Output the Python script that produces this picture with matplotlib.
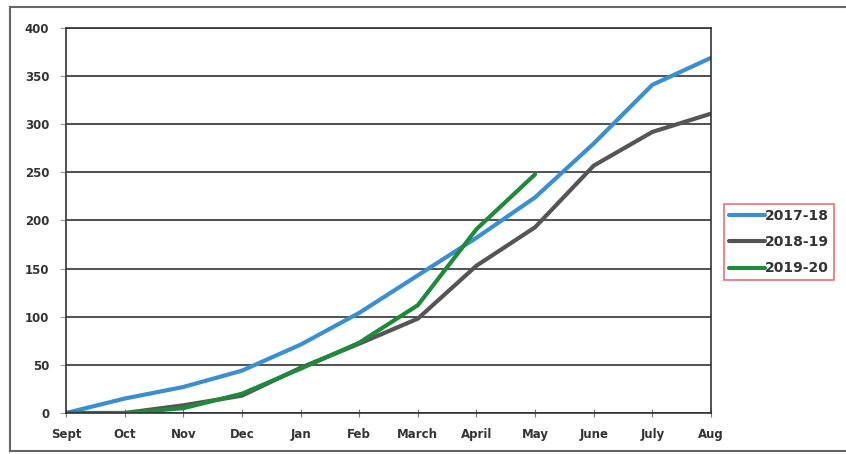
import matplotlib.pyplot as plt
from matplotlib.lines import Line2D

months = ["Sept", "Oct", "Nov", "Dec", "Jan", "Feb", "March", "April", "May", "June", "July", "Aug"]
s2017 = [0, 15, 27, 44, 71, 104, 143, 182, 224, 280, 341, 369]
s2018 = [0, 0, 8, 18, 47, 72, 98, 153, 193, 257, 292, 311]
s2019 = [0, 0, 5, 20, 46, 73, 112, 191, 248]
yticks = [0, 50, 100, 150, 200, 250, 300, 350, 400]

fig = plt.figure(figsize=(8.46, 4.54), dpi=100)
ax = fig.add_axes([66 / 846, 1 - 413 / 454, (711 - 66) / 846, (413 - 28) / 454])

x = range(len(months))
ax.plot(x, s2017, color="#3a8fd0", lw=3, label="2017-18", solid_capstyle="round")
ax.plot(x, s2018, color="#555555", lw=3, label="2018-19", solid_capstyle="round")
ax.plot(range(len(s2019)), s2019, color="#1f8a3b", lw=3, label="2019-20", solid_capstyle="round")

ax.set_xlim(0, len(months) - 1)
ax.set_ylim(0, 400)
ax.set_yticks(yticks)
ax.set_xticks(list(x))
ax.set_xticklabels(months)
ax.grid(axis="y", color="#333333", lw=1.2)
ax.set_axisbelow(True)
for s in ax.spines.values():
    s.set_color("#333333")
    s.set_linewidth(1.2)
ax.tick_params(axis="x", direction="inout", length=6, color="#777777", pad=8)
ax.tick_params(axis="y", direction="out", length=4, color="#999999", pad=8)
for lab in ax.get_xticklabels() + ax.get_yticklabels():
    lab.set_fontsize(8.5)
    lab.set_fontweight("bold")
    lab.set_color("#333333")

leg = ax.legend(loc="center left", bbox_to_anchor=(724 / 846, 1 - 242 / 454),
                bbox_transform=fig.transFigure, frameon=True, fancybox=False,
                prop={"weight": "bold", "size": 10}, handlelength=2.6,
                handletextpad=0.0, borderpad=0.35, labelspacing=0.9,
                borderaxespad=0)
leg.get_frame().set_edgecolor("#e05050")
leg.get_frame().set_linewidth(1.2)
for t in leg.get_texts():
    t.set_color("#333333")

# outer chart border (right side runs off the picture)
for xs, ys in [([10, 10], [7, 451]), ([10, 846], [7, 7]), ([10, 846], [451, 451])]:
    fig.add_artist(Line2D([v / 846 for v in xs], [1 - v / 454 for v in ys],
                          transform=fig.transFigure, color="#666666", lw=1.5))

fig.savefig("out.png", dpi=100)
